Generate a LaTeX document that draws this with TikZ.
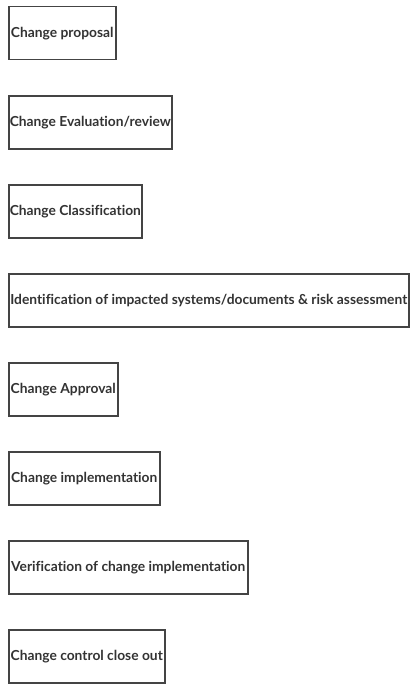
\documentclass[tikz,border=0pt]{standalone}
\usepackage{fontspec}
\setmainfont{Lato}[Ligatures={NoCommon}]
\definecolor{boxline}{HTML}{444444}
\definecolor{boxtext}{HTML}{333333}
\begin{document}
\begin{tikzpicture}[x=1pt,y=-1pt,
  stepbox/.style={draw=boxline,line width=1.5pt,anchor=north west,minimum height=53pt,
    inner xsep=1pt,text=boxtext,font=\fontsize{13.8}{15}\selectfont\bfseries}]
\useasboundingbox (0,0) rectangle (418,693);
\node[stepbox,minimum width=107pt] (proposal) at (8,6) {Change proposal};
\node[stepbox,minimum width=163pt] (review) at (8,95) {Change Evaluation/review};
\node[stepbox,minimum width=133pt] (classif) at (8,184) {Change Classification};
\node[stepbox,minimum width=400pt] (impact) at (8,273) {Identification of impacted systems/documents \& risk assessment};
\node[stepbox,minimum width=109pt] (approval) at (8,362) {Change Approval};
\node[stepbox,minimum width=151pt] (implement) at (8,451) {Change implementation};
\node[stepbox,minimum width=239pt] (verify) at (8,540) {Verification of change implementation};
\node[stepbox,minimum width=156pt] (closeout) at (8,629) {Change control close out};
\end{tikzpicture}
\end{document}
